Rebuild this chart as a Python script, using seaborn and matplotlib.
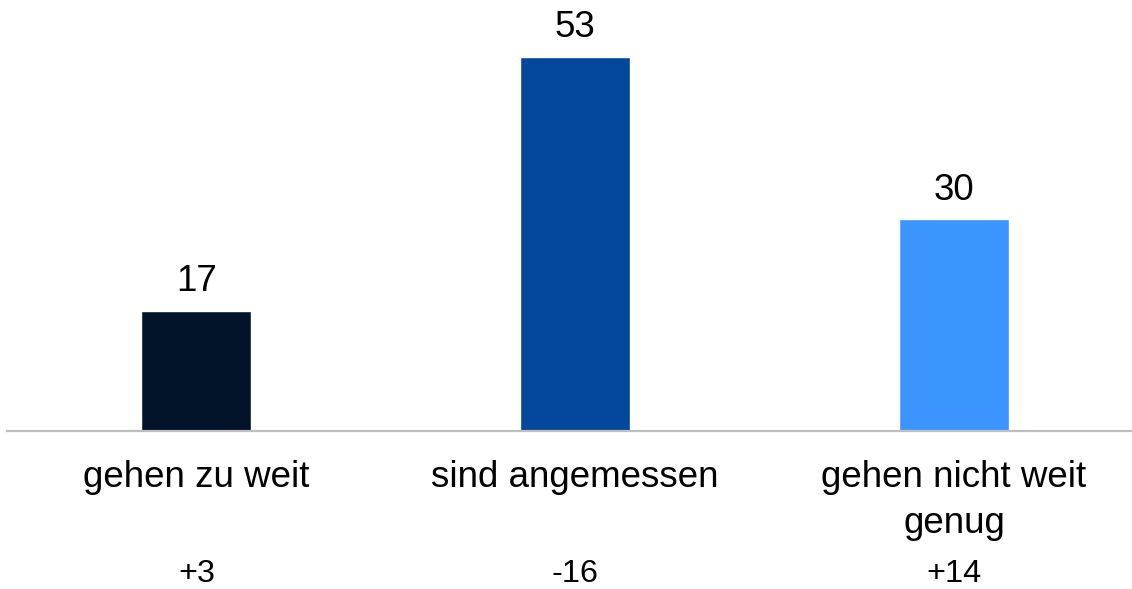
import matplotlib.pyplot as plt
import matplotlib.transforms as mtransforms
import pandas as pd
import seaborn as sns

categories = ["gehen zu weit", "sind angemessen", "gehen nicht weit\ngenug"]
values = [17, 53, 30]
changes = ["+3", "-16", "+14"]
colors = ["#011429", "#03479C", "#3C94FF"]

sns.set_theme(style="white")
plt.rcParams["font.family"] = ["Liberation Sans", "DejaVu Sans"]

df = pd.DataFrame({"category": categories, "value": values})

fig = plt.figure(figsize=(11.32, 5.89), dpi=100)
ax = fig.add_axes([7 / 1132, 158 / 589, 1125 / 1132, 431 / 589])

sns.barplot(
    data=df,
    x="category",
    y="value",
    hue="category",
    palette=colors,
    width=0.29,
    saturation=1,
    legend=False,
    ax=ax,
)

ax.set_xlim(-0.5, 2.47)
ax.set_ylim(0, 61)
ax.set_xlabel("")
ax.set_ylabel("")
ax.set_xticks([])
ax.set_yticks([])
for side in ["top", "right", "left"]:
    ax.spines[side].set_visible(False)
ax.spines["bottom"].set_color("#BFBFBF")
ax.spines["bottom"].set_linewidth(1.6)

for bar, value in zip(ax.patches, values):
    ax.annotate(
        f"{value}",
        xy=(bar.get_x() + bar.get_width() / 2, bar.get_height()),
        xytext=(0, 14),
        textcoords="offset points",
        ha="center",
        va="baseline",
        fontsize=26.5,
        color="black",
    )

trans = mtransforms.blended_transform_factory(ax.transData, ax.transAxes)
for i, (label, change) in enumerate(zip(categories, changes)):
    ax.annotate(
        label,
        xy=(i, 0),
        xycoords=trans,
        xytext=(0, -21),
        textcoords="offset points",
        ha="center",
        va="top",
        fontsize=26.5,
        linespacing=1.4,
        color="black",
        annotation_clip=False,
    )
    ax.annotate(
        change,
        xy=(i, 0),
        xycoords=trans,
        xytext=(0, -109),
        textcoords="offset points",
        ha="center",
        va="baseline",
        fontsize=23.3,
        color="black",
        annotation_clip=False,
    )

fig.savefig("out.png", dpi=100)
